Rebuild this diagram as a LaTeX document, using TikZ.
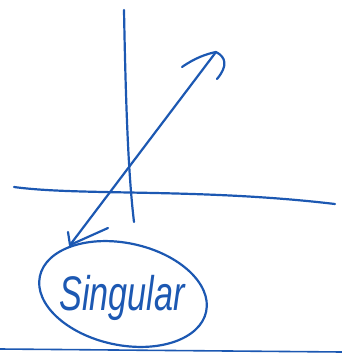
\documentclass[tikz,border=0pt]{standalone}
\usepackage{fontspec}
\setmainfont{Liberation Sans}
\definecolor{pen}{RGB}{28,88,178}
\begin{document}
\begin{tikzpicture}[x=1pt,y=-1pt,
  ink/.style={draw=pen,line width=2.2pt,line cap=round,line join=round},
  label/.style={text=pen,font=\fontsize{36}{40}\selectfont\itshape,inner sep=0pt}]
\useasboundingbox (0,0) rectangle (342,360);
% vertical axis
\coordinate (vtop) at (124,10);
\coordinate (vbot) at (134,222);
\draw[ink] (vtop) .. controls (126,120) and (129,180) .. (vbot);
% horizontal axis
\coordinate (hl) at (14,187);
\coordinate (hr) at (335,204);
\draw[ink] (hl) .. controls (80,196) and (200,188) .. (hr);
% double-headed arrow
\coordinate (atop) at (216,52);
\coordinate (abot) at (70,245);
\draw[ink] (abot) -- (atop);
\draw[ink] (182,67) .. controls (195,58) and (206,54) .. (atop) .. controls (226,57) and (228,66) .. (217,79);
\draw[ink] (68,232) -- (abot) -- (108,228);
% ellipse with text
\node[label,xscale=0.95,yscale=1.35] (txt) at (122,298) {Singular};
\draw[ink] (123,294) ellipse[x radius=85,y radius=51,rotate=-12];
% bottom line
\coordinate (bl) at (0,349);
\coordinate (br) at (342,352);
\draw[ink,line width=1.6pt] (bl) -- (br);
\end{tikzpicture}
\end{document}
